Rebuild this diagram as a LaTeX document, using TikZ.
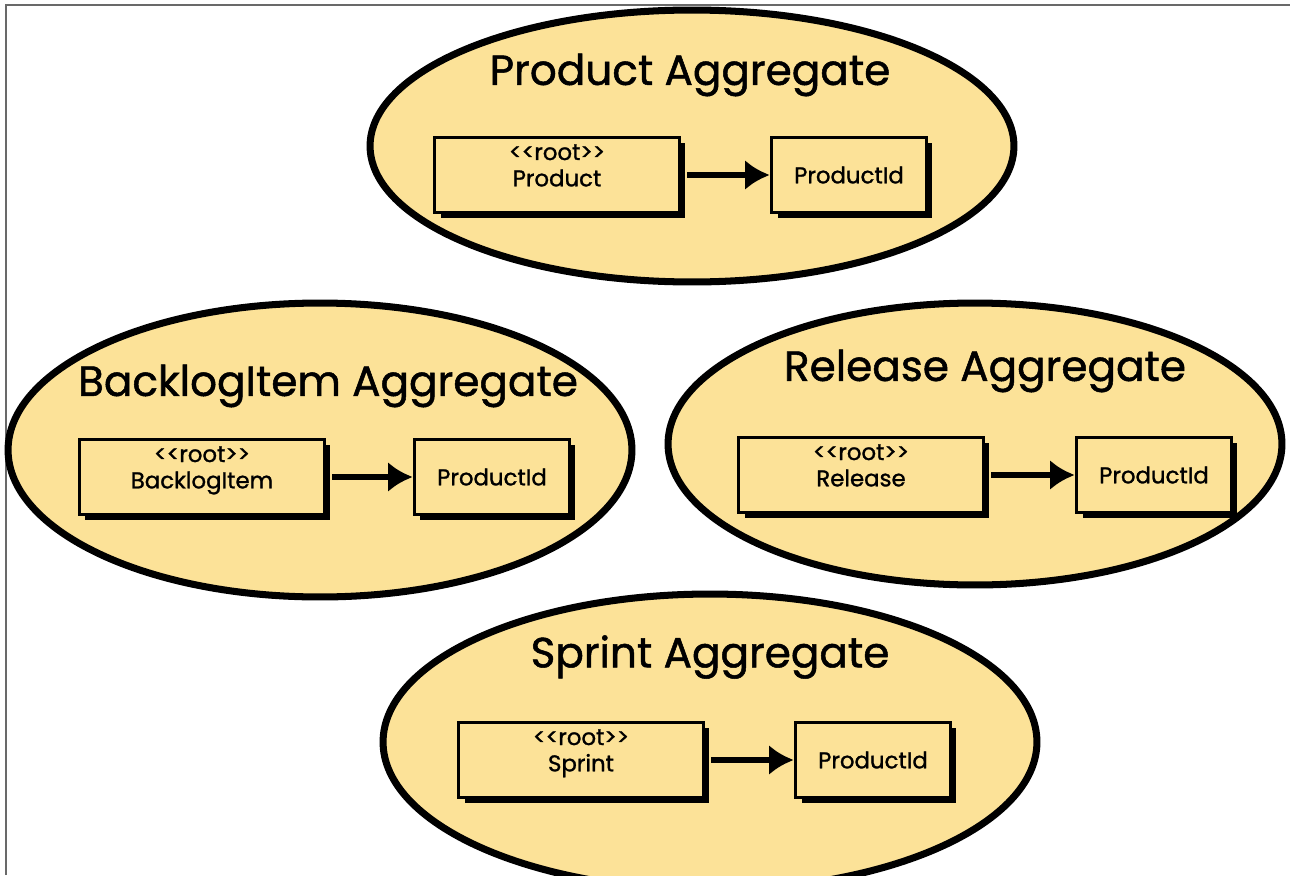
\documentclass[tikz,border=0pt]{standalone}
\usepackage{fontspec}
\newfontfamily\sketchfont[FakeBold=1.2]{Poppins}
\usetikzlibrary{shapes.geometric,shadows,arrows.meta}

\definecolor{aggfill}{RGB}{252,226,152}
\definecolor{framegray}{RGB}{105,105,105}

\tikzstyle{aggregate}=[draw,fill=aggfill,ellipse,line width=4pt,inner sep=0pt]
\tikzstyle{aggtitle}=[font=\sketchfont\fontsize{24}{27}\selectfont]
\tikzstyle{rootbox}=[draw,fill=aggfill,rectangle,line width=2pt,minimum width=4.9cm,minimum height=1.5cm,align=center,
	font=\sketchfont\fontsize{13}{15}\selectfont,
	drop shadow={shadow xshift=3.4pt,shadow yshift=-3.4pt,fill=black,opacity=1}]
\tikzstyle{idbox}=[rootbox,minimum width=3.1cm]

\begin{document}
\begin{tikzpicture}[x=0.02cm,y=-0.02cm]
	\useasboundingbox (0,0) rectangle (1290,875);
	\begin{scope}[>={Latex[length=14pt,width=17pt]}]
		% page frame, top and left edge only
		\draw[framegray,line width=1.2pt] (6,875) -- (6,5) -- (1290,5);
		\foreach \nr/\ex/\ey/\ew/\eh/\tx/\ty/\nm/\rx/\ry/\ix in {
			1/692/146/12.88/5.44/690/75/Product/557/175/849,
			2/320/450/12.48/5.88/328/386/BacklogItem/202/477/492,
			3/975/444/12.28/5.64/985/371/Release/861/475/1154,
			4/710/742/13.08/5.92/710/657/Sprint/581/760/873}{
			\node (A\nr)[aggregate,minimum width=\ew cm,minimum height=\eh cm] at (\ex,\ey) {};
			\node (T\nr)[aggtitle] at (\tx,\ty) {\nm\ Aggregate};
			\node (R\nr)[rootbox] at (\rx,\ry) {\textless\textless root\textgreater\textgreater\\\nm\\[-4pt]};
			\node (I\nr)[idbox] at (\ix,\ry) {ProductId};
			
			\draw[->,line width=3.4pt] ([xshift=3.4pt]R\nr.east) -- (I\nr.west);
		}
	\end{scope}
\end{tikzpicture}
\end{document}
